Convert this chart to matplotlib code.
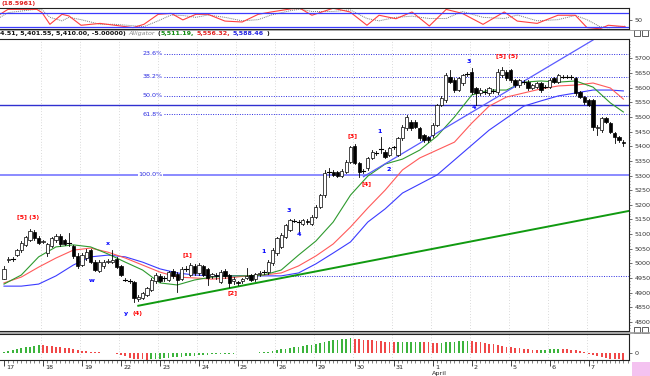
import matplotlib
matplotlib.use('Agg')
import matplotlib.pyplot as plt
from matplotlib.patches import Rectangle

# ---------------- data ----------------
opens = [4948,5010,5013,5028,5045,5062,5080,5108,5088,5072,5035,5060,5078,5095,5078,5070,5058,5025,4995,5018,
         5045,5005,4975,4990,5006,5005,5015,4990,4945,4940,4937,4878,4882,4892,4910,4938,4955,4948,4943,4975,
         4965,4948,4980,4960,4990,4966,4990,4980,4958,4960,4937,4975,4960,4938,4935,4938,4950,4960,4945,4962,
         4968,4971,5000,5034,5057,5091,5114,5145,5142,5136,5146,5136,5159,5193,5233,5310,5313,5313,5300,5313,
         5347,5400,5342,5315,5324,5359,5376,5390,5381,5370,5396,5370,5427,5461,5484,5484,5461,5438,5432,5438,
         5473,5541,5558,5638,5626,5592,5615,5645,5655,5598,5581,5586,5581,5587,5586,5643,5655,5660,5626,5609,
         5620,5620,5598,5604,5615,5603,5604,5632,5620,5637,5638,5637,5632,5586,5569,5558,5558,5461,5455,5495,
         5478,5446,5433,5415]
highs = [4990,5020,5022,5050,5075,5095,5118,5115,5092,5080,5070,5090,5100,5100,5082,5103,5062,5035,5035,5048,
         5050,5010,5010,5012,5015,5045,5020,4995,4950,4945,4940,4890,4902,4920,4950,4968,4962,4958,4975,4980,
         4970,4988,4990,5000,4998,5002,4995,4985,4968,4968,4978,4980,4965,4952,4940,4950,4983,4965,4968,4972,
         4978,5010,5052,5090,5102,5136,5152,5152,5148,5152,5150,5164,5198,5238,5318,5325,5318,5316,5322,5352,
         5402,5408,5345,5322,5364,5388,5383,5430,5386,5398,5402,5432,5472,5508,5490,5490,5466,5442,5436,5478,
         5546,5570,5650,5660,5632,5638,5648,5652,5668,5602,5598,5595,5603,5595,5665,5672,5660,5665,5630,5630,
         5628,5626,5614,5620,5620,5610,5632,5638,5648,5645,5644,5645,5638,5590,5572,5562,5562,5472,5500,5500,
         5482,5450,5436,5422]
lows = [4945,5005,5008,5024,5040,5058,5075,5080,5065,5068,5025,5055,5072,5060,5062,5058,5018,4985,4990,5012,
        5000,4972,4970,4985,5000,5000,4985,4955,4938,4932,4868,4872,4878,4888,4905,4932,4935,4940,4938,4950,
        4903,4942,4975,4955,4960,4960,4955,4925,4950,4948,4932,4950,4918,4930,4925,4934,4945,4940,4940,4958,
        4963,4965,4995,5030,5052,5088,5110,5140,5102,5132,5136,5132,5155,5190,5228,5295,5298,5294,5296,5308,
        5342,5338,5296,5308,5318,5355,5370,5376,5360,5365,5390,5365,5422,5456,5456,5462,5420,5415,5415,5432,
        5468,5536,5552,5615,5586,5588,5610,5640,5580,5540,5576,5580,5575,5582,5580,5638,5626,5620,5604,5604,
        5614,5592,5594,5600,5587,5598,5600,5615,5615,5632,5632,5630,5576,5564,5546,5536,5455,5438,5450,5480,
        5445,5410,5416,5402]
closes = [4982,5013,5015,5045,5068,5090,5110,5085,5070,5075,5065,5085,5095,5065,5066,5068,5025,4990,5030,5040,
          5005,4977,5005,5005,5009,5010,4988,4960,4943,4938,4880,4885,4898,4915,4943,4960,4940,4950,4971,4955,
          4943,4982,4982,4994,4966,4994,4960,4950,4962,4955,4971,4955,4931,4948,4932,4946,4955,4943,4962,4966,
          4970,5005,5045,5085,5097,5131,5148,5146,5140,5148,5140,5159,5193,5233,5307,5312,5302,5300,5315,5347,
          5398,5342,5313,5316,5359,5381,5377,5391,5364,5393,5397,5427,5467,5501,5461,5467,5427,5421,5421,5473,
          5541,5564,5643,5620,5592,5632,5643,5647,5586,5581,5592,5587,5598,5588,5655,5660,5632,5626,5609,5626,
          5621,5598,5609,5615,5592,5604,5626,5620,5643,5638,5637,5638,5581,5569,5552,5541,5467,5467,5495,5484,
          5450,5433,5421,5410]

# Alligator lines sampled every 4 bars (last at bar 143)
gator_idx = [0,4,8,12,16,20,24,28,32,36,40,44,48,52,56,60,64,68,72,76,80,84,88,92,96,100,
             104,108,112,116,120,124,128,132,136,140,143]
jaw = [4922,4922,4929,4957,4994,5022,5028,5022,5004,4981,4967,4960,4957,4957,4957,4957,4957,4967,4998,5035,
       5073,5141,5186,5240,5271,5302,5353,5404,5455,5496,5537,5555,5572,5582,5592,5592,5589]
teeth = [4933,4953,4987,5018,5045,5052,5038,5018,4994,4970,4953,4950,4946,4950,4957,4960,4967,4991,5025,5066,
         5124,5189,5250,5319,5360,5387,5414,5479,5537,5568,5582,5596,5606,5609,5616,5599,5561]
lips = [4929,4960,5022,5056,5063,5056,5032,5004,4977,4933,4926,4943,4953,4957,4957,4960,4977,5028,5076,5141,
        5233,5298,5339,5356,5387,5435,5500,5575,5592,5592,5619,5623,5619,5623,5602,5548,5517]

# Stochastic
stoch_idx = [-0.9,0.9,7.6,8.8,10.6,13.4,15.0,17.8,22.2,25.6,29.8,32.3,35.6,38.6,41.3,44.3,47.1,51.0,55.0,58.7,
             61.7,66.5,68.4,71.1,76.0,79.9,83.8,86.6,90.5,94.2,98.2,102.1,105.8,110.6,115.5,118.5,123.1,127.9,
             131.9,134.6,137.6,139.5,143.4]
stoch_k = [73,94,94,80,30,73,66,26,34,26,16,30,73,77,49,73,73,44,40,73,83,97,98,69,99,83,26,69,54,83,23,94,77,
           30,83,44,34,69,69,16,11,26,20]
stoch_d = [60,80,95,92,60,45,60,50,30,30,24,20,45,70,68,60,70,60,45,50,70,90,95,85,85,92,55,45,60,65,55,55,85,
           60,55,70,45,50,68,50,20,15,22]

# Oscillator histogram
osc = [10,20,30,40,50,60,70,80,85,
       82,78,75,70,65,58,50,42,35,28,
       22,18,12,8,5,3,
       -2,-8,-18,-30,-45,-55,
       -60,-64,-66,-64,
       -60,-56,-52,-48,-44,-40,-36,-32,-28,-24,-20,-17,-14,-11,-9,-7,-5,-4,-3,-2,-1,
       1,3,5,8,12,18,25,32,40,48,56,64,70,76,82,88,95,105,115,125,135,142,148,152,155,
       150,146,142,138,133,128,124,120,116,112,
       114,116,118,119,120,121,
       117,113,109,105,
       108,112,116,120,123,126,128,
       124,118,112,106,100,92,84,76,68,60,55,50,
       46,42,38,35,36,38,40,42,44,43,41,38,32,22,
       10,-5,-20,-32,-42,-50,-56,-60,-63,-65]

day_labels = ['17','18','19','22','23','24','25','26','29','30','31','1','2','5','6','7']
bars_per_day = 9

fib_top, fib_bottom = 5844, 5302
fib_levels = [0.236, 0.382, 0.5, 0.618]
support_level = 5540
ext_level = 4958

green_trend = ([31, 144.3], [4855, 5179])
blue_trend = ([83, 136.0], [5296, 5763])

wave_labels = [  # (text, bar, price, color)
    ('[5] (3)', 5.5, 5158, 'red'), ('x', 24.0, 5069, 'blue'), ('w', 20.3, 4940, 'blue'),
    ('y', 28.2, 4827, 'blue'), ('(4)', 30.8, 4827, 'red'), ('[1]', 42.3, 5028, 'red'),
    ('[2]', 52.7, 4899, 'red'), ('1', 60.0, 5039, 'blue'), ('3', 65.8, 5182, 'blue'),
    ('4', 68.1, 5100, 'blue'), ('[3]', 80.4, 5435, 'red'), ('1', 86.8, 5449, 'blue'),
    ('[4]', 83.8, 5271, 'red'), ('2', 88.9, 5319, 'blue'), ('3', 107.4, 5688, 'blue'),
    ('4', 108.5, 5531, 'blue'), ('[5] (5)', 116.2, 5705, 'red'),
]

# ---------------- figure ----------------
W, H = 650, 376
fig = plt.figure(figsize=(6.5, 3.76), dpi=100)
fig.patch.set_facecolor('white')

def rect(x0, y0, x1, y1):
    return [x0 / W, 1 - y1 / H, (x1 - x0) / W, (y1 - y0) / H]

XL = (-0.92, 144.3)
FS = 4.6
ax_top = fig.add_axes(rect(0, 8, 629, 29))
ax = fig.add_axes(rect(0, 39, 629, 331))
ax_bot = fig.add_axes(rect(0, 334, 629, 360))

ticks = [d * bars_per_day for d in range(len(day_labels))]

for a in (ax_top, ax, ax_bot):
    a.set_xlim(*XL)
    a.set_facecolor('white')
    a.spines['left'].set_visible(False)
    for s in ('top', 'bottom', 'right'):
        a.spines[s].set_linewidth(0.8)
        a.spines[s].set_color('#222222')
    a.yaxis.tick_right()
    a.tick_params(axis='y', labelsize=FS, length=2, width=0.5, colors='#333333', pad=2)

# faint day gridlines
for a in (ax, ax_bot):
    for t in ticks[1:]:
        a.axvline(t - 0.5, color='#b8b8b8', lw=0.5, ls=(0, (1, 3)), zorder=0)

# ---- main candles ----
n = len(closes)
for i in range(n):
    o, h, l, c = opens[i], highs[i], lows[i], closes[i]
    ax.plot([i, i], [l, h], color='black', lw=0.6, zorder=3)
    lo, hi = min(o, c), max(o, c)
    if hi - lo < 2.5:
        ax.plot([i - 0.45, i + 0.45], [c, c], color='black', lw=0.8, zorder=4)
    else:
        ax.add_patch(Rectangle((i - 0.38, lo), 0.76, hi - lo,
                               facecolor='white' if c >= o else 'black',
                               edgecolor='black', lw=0.5, zorder=4))

ax.plot(gator_idx, jaw, color='#3b3bff', lw=0.8, zorder=2)
ax.plot(gator_idx, teeth, color='#ff5a5a', lw=0.8, zorder=2)
ax.plot(gator_idx, lips, color='#2e9a2e', lw=0.8, zorder=2)

# fib lines
fib_start = 37
for lv in fib_levels:
    p = fib_top - lv * (fib_top - fib_bottom)
    ax.plot([fib_start, XL[1]], [p, p], color='#2a2ae0', lw=0.7, ls=(0, (1, 1.5)), zorder=1)
    ax.text(fib_start - 0.3, p, f'{lv*100:.1f}%', color='#2a2ae0', fontsize=FS,
            ha='right', va='center', zorder=5)
ax.axhline(fib_bottom, color='#8a8aff', lw=1.4, zorder=1)
ax.text(fib_start - 0.3, fib_bottom, '100.0%', color='#2a2ae0', fontsize=FS, ha='right', va='center',
        zorder=5, bbox=dict(facecolor='white', edgecolor='none', pad=0.3))
ax.axhline(support_level, color='#3030d0', lw=1.0, zorder=1)
ax.plot([66, XL[1]], [ext_level, ext_level], color='#2a2ae0', lw=0.7, ls=(0, (1, 1.5)), zorder=1)

ax.plot(*green_trend, color='#109a10', lw=1.4, zorder=2)
ax.plot(*blue_trend, color='#5a5aff', lw=0.9, zorder=2)

for txt, bx, py, col in wave_labels:
    ax.text(bx, py, txt, color=col, fontsize=FS, ha='center', va='center', zorder=6,
            fontweight='bold')

ax.set_ylim(4768.7, 5766.4)
ax.set_yticks(range(4800, 5701, 50))
ax.set_yticks(range(4780, 5761, 10), minor=True)
ax.tick_params(axis='y', which='minor', length=1, width=0.4, colors='#333333')
ax.set_xticks([])

# ---- top stochastic ----
ax_top.plot(stoch_idx, stoch_d, color='#777777', lw=0.7, ls=(0, (1, 1)))
ax_top.plot(stoch_idx, stoch_k, color='#ff4040', lw=0.8)
ax_top.axhline(80, color='#3b3bff', lw=0.9)
ax_top.axhline(20, color='#3b3bff', lw=0.9)
ax_top.set_ylim(10, 100)
ax_top.set_yticks([50])
ax_top.set_xticks([])

# ---- bottom oscillator ----
bar_x = list(range(len(osc)))
cols = ['#3cb43c' if (k == 0 or osc[k] >= osc[k - 1]) else '#f04848' for k in range(len(osc))]
ax_bot.bar(bar_x, osc, width=0.42, color=cols, linewidth=0)
ax_bot.set_ylim(-70, 200)
ax_bot.set_yticks([0])
ax_bot.set_xticks(ticks)
ax_bot.set_xticklabels([])
ax_bot.set_xticks(range(0, 145), minor=True)
ax_bot.tick_params(axis='x', which='major', length=4, width=0.6, colors='#222222', direction='out')
ax_bot.tick_params(axis='x', which='minor', length=2, width=0.4, colors='#222222', direction='out')
for t, lab in zip(ticks, day_labels):
    ax_bot.text(t + 0.5, -0.3, lab, transform=ax_bot.get_xaxis_transform(), fontsize=FS,
                ha='left', va='center', color='#222222')
ax_bot.text(11 * bars_per_day + 1.5, -0.5, 'April', transform=ax_bot.get_xaxis_transform(),
            fontsize=FS, ha='center', va='center', color='#222222')

# ---- header texts ----
fig.text(1 / W, 1 - 3.5 / H, '(18.5961)', color='#e02020', fontsize=FS, va='center', ha='left',
         fontweight='bold')
fig.canvas.draw()
r = fig.canvas.get_renderer()
parts = [('4.51, 5,401.55, 5,410.00, -5.00000)', '#111111', {'fontweight': 'bold'}),
         ('Alligator', '#888888', {'style': 'italic'}),
         ('(', '#111111', {'fontweight': 'bold'}),
         ('5,511.19,', '#108a10', {'fontweight': 'bold'}),
         ('5,556.32,', '#e02020', {'fontweight': 'bold'}),
         ('5,588.46', '#2020e0', {'fontweight': 'bold'}),
         (')', '#111111', {'fontweight': 'bold'})]
xp = 0
for s, c, kw in parts:
    t = fig.text(xp / W, 1 - 33.5 / H, s, color=c, fontsize=FS, va='center', ha='left', **kw)
    bb = t.get_window_extent(renderer=r)
    xp = bb.x1 + (1 if s == '(' else 2.5)

# separator strips
fig.add_artist(plt.Line2D([0, 1], [1 - 29.5 / H, 1 - 29.5 / H], color='#999999', lw=0.6))
fig.add_artist(plt.Line2D([0, 1], [1 - 332.5 / H, 1 - 332.5 / H], color='#999999', lw=1.2))
fig.add_artist(Rectangle((632 / W, 0), 18 / W, 14 / H, transform=fig.transFigure,
                         facecolor='#f4c2f0', edgecolor='none'))
# small window icons
for yy in (30, 327):
    for xx in (634, 642):
        fig.add_artist(Rectangle((xx / W, 1 - (yy + 6) / H), 6 / W, 6 / H, transform=fig.transFigure,
                                 facecolor='white', edgecolor='#444444', lw=0.6))

fig.savefig('out.png', dpi=100, facecolor='white')
